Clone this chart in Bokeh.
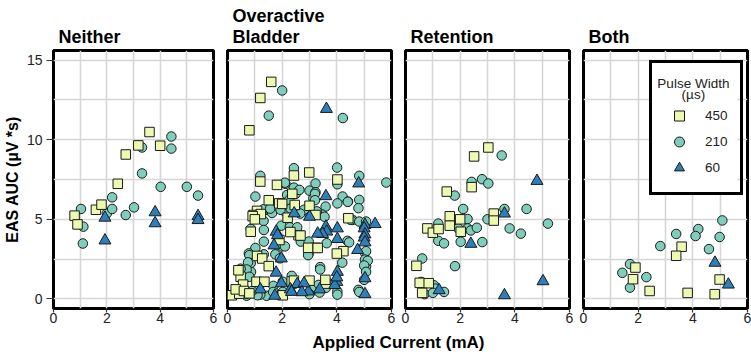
from bokeh.plotting import figure
from bokeh.layouts import row, column
from bokeh.models import Range1d, FixedTicker, Legend, LegendItem, Label, BoxAnnotation
from bokeh.embed import file_html
from bokeh.resources import INLINE

FONT = "Liberation Sans"

# ---- data: applied current (mA) vs EAS AUC (uV*s), by pulse width (us) ----
pulse_widths = ["450", "210", "60"]
panel_titles = ["Neither", "Overactive\nBladder", "Retention", "Both"]
legend_heading = ["Pulse Width", "(µs)"]

neither_450_x = [0.79, 0.9, 1.59, 1.8, 2.41, 2.71, 3.18, 3.6, 4.0]
neither_450_y = [5.23, 4.68, 5.6, 5.92, 7.23, 9.07, 9.64, 10.48, 9.62]
neither_210_x = [1.03, 1.12, 1.1, 2.0, 2.2, 2.2, 2.71, 3.02, 3.32, 3.32, 4.02, 4.42, 4.42, 5.0, 5.42]
neither_210_y = [5.65, 4.54, 3.48, 5.37, 6.38, 5.65, 5.27, 5.75, 9.51, 7.88, 7.04, 10.2, 9.44, 7.04, 6.49]
neither_60_x = [1.93, 1.93, 3.81, 3.81, 5.42, 5.42]
neither_60_y = [5.1, 3.67, 5.44, 4.75, 5.2, 4.95]

oab_450_x = [1.6, 1.2, 0.8, 2.99, 2.43, 1.2, 4.02, 1.81, 1.51, 2.37, 1.89, 2.0, 2.46, 3.0,
             3.22, 1.08, 0.95, 1.22, 0.92, 4.42, 0.85, 1.9, 2.6, 2.67, 2.3, 3.22, 2.95, 4.24,
             4.0, 3.3, 1.08, 1.27, 1.51, 0.48, 1.06, 1.35, 0.57, 2.35, 2.43, 3.0, 3.61, 3.58,
             0.16, 0.43, 2.02, 0.4, 0.3, 0.6, 0.8, 1.0, 2.2]
oab_450_y = [13.63, 12.62, 10.59, 7.94, 7.75, 7.37, 7.5, 7.16, 6.2, 6.6, 6.0, 5.97, 5.9, 5.85,
             5.27, 5.53, 5.27, 5.33, 5.2, 5.07, 4.22, 3.7, 4.0, 3.98, 4.2, 3.21, 3.21, 3.0,
             2.85, 3.2, 2.7, 2.54, 2.06, 1.39, 1.08, 1.08, 0.9, 1.1, 1.15, 1.15, 0.96, 1.2,
             0.23, 0.33, 0.23, 1.8, 0.6, 0.5, 0.35, 5.0, 5.1]
oab_210_x = [2.0, 1.51, 4.22, 2.43, 4.01, 1.2, 4.82, 4.02, 5.81, 2.12, 2.43, 3.22, 3.0, 3.22,
             1.02, 2.18, 2.49, 2.63, 2.1, 4.21, 4.41, 4.82, 4.02, 3.59, 3.14, 3.2, 3.2, 4.4,
             4.79, 1.39, 1.63, 2.09, 3.0, 3.47, 2.8, 3.27, 1.32, 1.56, 2.26, 1.94, 2.31, 2.66,
             3.55, 4.58, 4.51, 4.82, 5.07, 1.32, 0.85, 1.33, 1.97, 2.28, 2.55, 1.33, 1.97, 2.1,
             2.68, 2.97, 3.63, 4.39, 4.45, 5.03, 5.07, 5.03, 5.07, 5.13, 5.0, 4.2, 3.39, 3.39,
             2.97, 2.95, 1.02, 0.78, 0.8, 1.33, 1.75, 1.92, 0.85, 0.75, 0.86, 0.7, 0.48, 0.8,
             1.15, 2.35, 2.02, 1.68, 2.43, 5.07, 5.0, 3.6, 3.6, 3.33, 3.08, 4.02, 4.79, 4.82,
             4.02, 3.37, 3.0, 1.43, 1.2, 0.7, 0.7, 1.1, 1.67, 2.02, 0.5, 0.9]
oab_210_y = [13.09, 11.51, 11.36, 8.21, 8.25, 7.73, 7.73, 7.2, 7.31, 7.23, 6.99, 7.25, 6.8, 6.7,
             6.43, 6.53, 6.6, 6.85, 7.3, 6.43, 6.11, 6.22, 6.0, 5.8, 6.32, 6.6, 6.2, 6.1,
             5.7, 5.59, 5.4, 5.5, 5.3, 5.3, 5.6, 5.5, 5.63, 5.67, 6.22, 5.6, 5.67, 5.36,
             5.16, 4.96, 4.96, 4.86, 4.86, 4.9, 4.4, 4.33, 4.6, 4.5, 4.5, 3.6, 3.3, 3.3,
             3.6, 3.6, 3.5, 3.65, 3.55, 2.9, 3.0, 2.47, 2.05, 2.4, 2.1, 2.28, 2.0, 1.85,
             2.86, 2.75, 3.2, 2.86, 2.75, 2.8, 2.8, 2.55, 2.25, 2.3, 1.7, 1.85, 1.9, 1.39,
             0.73, 1.45, 1.08, 0.82, 0.93, 1.7, 1.2, 1.1, 0.7, 0.88, 0.57, 0.47, 0.57, 0.44,
             0.27, 0.4, 0.3, 0.2, 0.27, 0.2, 0.33, 0.23, 0.44, 0.44, 0.6, 0.5]
oab_60_x = [3.62, 4.8, 3.6, 2.44, 3.0, 1.78, 1.83, 1.7, 1.97, 1.78, 5.03, 5.0, 5.4, 5.03,
            5.0, 5.03, 4.76, 5.03, 5.03, 4.02, 4.02, 3.6, 3.63, 3.48, 4.02, 4.0, 3.92, 3.37,
            2.96, 1.97, 2.55, 2.8, 2.72, 2.3, 2.34, 1.73, 1.2, 4.0, 3.3]
oab_60_y = [11.93, 7.25, 6.45, 5.37, 5.16, 4.22, 4.0, 3.36, 2.54, 1.65, 4.65, 4.43, 4.7, 4.05,
            3.85, 3.55, 3.07, 1.3, 0.3, 4.43, 3.76, 4.54, 4.23, 4.08, 1.7, 1.07, 0.87, 0.6,
            0.47, 0.98, 0.93, 0.98, 0.42, 0.6, 0.44, 0.2, 0.6, 1.35, 4.1]

retention_450_x = [3.03, 2.51, 2.42, 1.51, 1.62, 2.0, 0.8, 1.0, 1.21, 1.62, 2.02, 3.23, 3.23,
                   0.4, 0.52, 0.85, 0.61]
retention_450_y = [9.51, 8.95, 7.02, 6.74, 5.19, 5.0, 4.43, 4.16, 4.39, 4.6, 4.22, 5.36, 4.92,
                   2.08, 1.01, 0.99, 0.38]
retention_210_x = [3.52, 2.8, 3.03, 2.42, 1.8, 2.11, 2.27, 3.0, 3.62, 4.43, 1.2, 1.93, 2.27,
                   2.39, 2.61, 3.81, 4.22, 5.21, 1.2, 1.41, 2.02, 2.81, 0.61, 1.81, 0.57, 1.04,
                   1.1, 1.41, 0.7, 1.0]
retention_210_y = [9.01, 7.52, 7.25, 7.35, 6.49, 5.65, 5.02, 5.0, 5.65, 5.65, 4.73, 4.43, 4.43,
                   4.3, 4.47, 4.43, 4.1, 4.73, 3.65, 3.49, 3.59, 3.57, 2.54, 2.06, 1.07, 0.86,
                   0.65, 0.44, 0.3, 0.38]
retention_60_x = [4.81, 3.62, 2.39, 5.03, 3.62, 1.23]
retention_60_y = [7.41, 5.36, 3.46, 1.11, 0.23, 0.55]

both_450_x = [3.59, 3.39, 1.9, 1.81, 2.42, 3.81, 4.8, 4.98]
both_450_y = [3.28, 2.71, 1.97, 1.24, 0.5, 0.38, 0.3, 1.22]
both_210_x = [5.08, 4.2, 4.1, 4.98, 3.39, 2.81, 4.59, 1.7, 1.42, 2.3, 1.7]
both_210_y = [4.93, 4.39, 3.95, 3.89, 4.08, 3.32, 3.13, 2.19, 1.64, 1.37, 0.71]
both_60_x = [4.81, 5.3]
both_60_y = [2.27, 0.9]

x_ticks = [0, 2, 4, 6]
y_ticks = [0, 5, 10, 15]

panels = [
    {"450": (neither_450_x, neither_450_y), "210": (neither_210_x, neither_210_y), "60": (neither_60_x, neither_60_y)},
    {"450": (oab_450_x, oab_450_y), "210": (oab_210_x, oab_210_y), "60": (oab_60_x, oab_60_y)},
    {"450": (retention_450_x, retention_450_y), "210": (retention_210_x, retention_210_y), "60": (retention_60_x, retention_60_y)},
    {"450": (both_450_x, both_450_y), "210": (both_210_x, both_210_y), "60": (both_60_x, both_60_y)},
]

# ---- styling ----
MARKER = {"450": "square", "210": "circle", "60": "triangle"}
FILL = {"450": "#edf8b1", "210": "#7fcdbb", "60": "#2c7fb8"}
SIZE = {"450": 9.5, "210": 9.5, "60": 12}
DRAW_ORDER = ["210", "450", "60"]

# (width, min_border_left, min_border_right) per panel
geometry = [(220, 49, 7), (178, 7, 7), (178, 7, 7), (175, 7, 4)]
ROW_H = 330
LABEL_H = 24

figs = []
legend_renderers = {}
for i, (title, data, (w, bl, br)) in enumerate(zip(panel_titles, panels, geometry)):
    p = figure(width=w, height=ROW_H, x_range=Range1d(0, 6), y_range=Range1d(-0.6, 15.6),
               output_backend="svg", toolbar_location=None, title=title,
               min_border_left=bl, min_border_right=br, min_border_top=49, min_border_bottom=22)
    p.title.text_font = FONT
    p.title.text_font_size = "18px"
    p.title.text_font_style = "bold"
    p.title.text_color = "black"
    p.title.text_line_height = 1.05
    p.title.offset = 5
    p.title.standoff = 7

    p.outline_line_color = "black"
    p.outline_line_width = 3
    p.background_fill_color = "white"
    p.border_fill_color = "white"

    p.xgrid.ticker = FixedTicker(ticks=[1, 2, 3, 4, 5])
    p.ygrid.ticker = FixedTicker(ticks=[0, 2.5, 5, 7.5, 10, 12.5, 15])
    for g in (p.xgrid, p.ygrid):
        g.grid_line_color = "#d6d6d6"
        g.grid_line_width = 1.6

    p.xaxis.ticker = FixedTicker(ticks=x_ticks)
    p.yaxis.ticker = FixedTicker(ticks=y_ticks)
    for ax in (p.xaxis, p.yaxis):
        ax.axis_line_color = None
        ax.major_tick_line_color = "#333333"
        ax.major_tick_line_width = 1.2
        ax.major_tick_in = 0
        ax.minor_tick_line_color = None
        ax.major_label_text_font = FONT
        ax.major_label_text_font_size = "14px"
        ax.major_label_text_color = "#222222"
    p.xaxis.major_tick_out = 4
    p.xaxis.major_label_standoff = 0
    p.yaxis.major_tick_out = 7
    p.yaxis.major_label_standoff = 4
    if i == 0:
        p.yaxis.axis_label = "EAS AUC (µV *s)"
        p.yaxis.axis_label_text_font = FONT
        p.yaxis.axis_label_text_font_size = "16px"
        p.yaxis.axis_label_text_font_style = "bold"
        p.yaxis.axis_label_text_color = "black"
        p.yaxis.axis_label_standoff = 3
    else:
        p.yaxis.visible = False

    for pw in DRAW_ORDER:
        xs, ys = data[pw]
        r = p.scatter(xs, ys, marker=MARKER[pw], size=SIZE[pw], fill_color=FILL[pw],
                      line_color="#1a1a1a", line_width=1)
        if i == 3:
            legend_renderers[pw] = r
    figs.append(p)

# legend inside the last panel: white panel behind, transparent legend box on top,
# and the two-line heading as labels
p4 = figs[3]
p4.add_layout(BoxAnnotation(left=2.49, right=5.63, bottom=6.72, top=14.97,
                            fill_color="white", fill_alpha=1.0, line_color=None,
                            level="annotation"))
legend = Legend(
    items=[LegendItem(label=pw, renderers=[legend_renderers[pw]]) for pw in pulse_widths],
    location=(66, 113), title=" ",
    title_text_font=FONT, title_text_font_size="12px", title_text_font_style="normal",
    title_standoff=14,
    label_text_font=FONT, label_text_font_size="13.5px", label_text_color="#222222",
    label_standoff=11, label_height=25,
    glyph_width=30, glyph_height=25, spacing=1, padding=12, margin=0,
    border_line_color="black", border_line_width=3, border_line_alpha=1.0,
    background_fill_alpha=0.0,
)
p4.add_layout(legend)
for txt, ty in zip(legend_heading, (13.55, 12.82)):
    p4.add_layout(Label(x=4.02, y=ty, text=txt, text_align="center",
                        text_baseline="alphabetic", text_font=FONT,
                        text_font_size="13.5px", text_color="#222222", level="overlay"))

# shared x-axis label underneath the panels (ranges in pixels of this strip)
lab = figure(width=751, height=LABEL_H, output_backend="svg", toolbar_location=None,
             x_range=Range1d(0, 751), y_range=Range1d(0, LABEL_H),
             min_border_left=0, min_border_right=0, min_border_top=0, min_border_bottom=0)
lab.axis.visible = False
lab.grid.visible = False
lab.outline_line_color = None
lab.add_layout(Label(x=398, y=12.5, text="Applied Current (mA)", text_align="center",
                     text_baseline="alphabetic", text_font=FONT, text_font_size="17px",
                     text_font_style="bold", text_color="black"))

layout = column(row(*figs, spacing=0), lab, spacing=0)
open("out.html", "w").write(file_html(layout, INLINE))
